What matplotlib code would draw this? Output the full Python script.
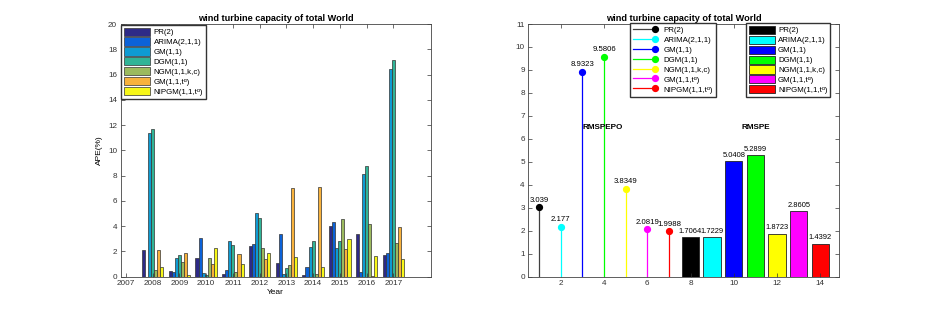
import numpy as np
import matplotlib
matplotlib.use("Agg")
import matplotlib.pyplot as plt
from matplotlib.lines import Line2D
from matplotlib.patches import Patch
from matplotlib.legend_handler import HandlerLine2D

plt.rcParams['font.family'] = ['Liberation Sans', 'DejaVu Sans']
plt.rcParams['font.size'] = 5.6

# 模型名称 (上标 alpha 用 unicode 字符, 避免 mathtext 使行变高)
models = ['PR(2)', 'ARIMA(2,1,1)', 'GM(1,1)', 'DGM(1,1)', 'NGM(1,1,k,c)',
          'GM(1,1,t\u1d45)', 'NIPGM(1,1,t\u1d45)']

# 左图: 每年的 APE(%)
years = [2007, 2008, 2009, 2010, 2011, 2012, 2013, 2014, 2015, 2016, 2017]
ape_pr = [0, 2.15, 0.45, 1.5, 0.2, 2.45, 1.05, 0.1, 4.0, 3.4, 1.75]
ape_arima = [0, 0.0, 0.35, 3.05, 0.5, 2.6, 3.35, 0.8, 4.3, 0.35, 1.85]
ape_gm = [0, 11.4, 1.45, 0.3, 2.85, 5.05, 0.2, 2.35, 2.25, 8.1, 16.4]
ape_dgm = [0, 11.7, 1.75, 0.1, 2.5, 4.65, 0.65, 2.85, 2.8, 8.75, 17.15]
ape_ngm = [0, 0.5, 1.2, 1.45, 0.4, 2.3, 0.9, 0.25, 4.6, 4.2, 2.7]
ape_gmt = [0, 2.1, 1.85, 1.0, 1.8, 1.4, 7.05, 7.1, 2.2, 0.05, 3.95]
ape_nipgm = [0, 0.8, 0.15, 2.25, 1.0, 1.85, 1.55, 0.75, 3.0, 1.6, 1.4]
ape_all = [ape_pr, ape_arima, ape_gm, ape_dgm, ape_ngm, ape_gmt, ape_nipgm]
left_colors = ['#2e2a87', '#0c62d8', '#0e9bd3', '#30b497', '#9cba5e', '#f8b23c', '#f7f718']

# 右图: RMSPEPO 和 RMSPE
rmspepo = [3.039, 2.177, 8.9323, 9.5806, 3.8349, 2.0819, 1.9988]
rmspepo_labels = ['3.039', '2.177', '8.9323', '9.5806', '3.8349', '2.0819', '1.9988']
rmspe = [1.7064, 1.7229, 5.0408, 5.2899, 1.8723, 2.8605, 1.4392]
rmspe_labels = ['1.7064', '1.7229', '5.0408', '5.2899', '1.8723', '2.8605', '1.4392']
right_colors = ['#000000', '#00ffff', '#0000ff', '#00ff00', '#ffff00', '#ff00ff', '#ff0000']
stem_colors = ['#404040', '#00ffff', '#0000ff', '#00ff00', '#ffff00', '#ff00ff', '#ff0000']


# 图例里标记放在线的右端 (类似 MATLAB 的 stem 图例)
class StemHandler(HandlerLine2D):
    def create_artists(self, *args, **kwargs):
        arts = super().create_artists(*args, **kwargs)
        arts[0].set_markevery([2])
        return arts


def style_axes(ax):
    for s in ax.spines.values():
        s.set_color('#444444')
        s.set_linewidth(0.6)
    ax.tick_params(direction='in', top=True, right=True, length=3, width=0.5,
                   colors='#333333', labelsize=5.9, pad=2.5)


leg_kw = dict(fontsize=5.7, labelspacing=0.15, borderpad=0.35, fancybox=False,
              edgecolor='#333333', framealpha=1)

fig = plt.figure(figsize=(9.26, 3.11), dpi=100)
ax1 = fig.add_axes([0.1303, 0.1103, 0.3348, 0.8125])
ax2 = fig.add_axes([0.5705, 0.1103, 0.3352, 0.8125])

# ---- 左图 分组柱状图 ----
x = np.array(years, dtype=float)
n = len(ape_all)
w = 0.8 / n
for i in range(n):
    ax1.bar(x + (i - (n - 1) / 2) * w, ape_all[i], width=w, color=left_colors[i],
            edgecolor='#333333', linewidth=0.5, label=models[i])
ax1.set_xlim(2006.8, 2018.4)
ax1.set_ylim(0, 20)
ax1.set_xticks(years)
ax1.set_yticks(range(0, 21, 2))
ax1.set_xlabel('Year', fontsize=6, labelpad=1)
ax1.set_ylabel('APE(%)', fontsize=6, labelpad=4)
ax1.set_title('wind turbine capacity of total World', fontsize=6.6, fontweight='bold', pad=2)
ax1.legend(loc='upper left', handlelength=3.3, handleheight=1.2, handletextpad=0.4,
           borderaxespad=0.1, **leg_kw)
style_axes(ax1)

# ---- 右图 火柴杆图 + 柱状图 ----
stem_x = np.arange(1, 8)
bar_x = np.arange(8, 15)
stem_handles = []
for i in range(7):
    ax2.plot([stem_x[i], stem_x[i]], [0, rmspepo[i]], color=stem_colors[i], lw=0.9)
    ax2.plot(stem_x[i], rmspepo[i], 'o', color=right_colors[i], ms=4.2)
    ax2.text(stem_x[i], rmspepo[i] + 0.14, rmspepo_labels[i], ha='center', va='bottom',
             fontsize=5.6)
    stem_handles.append(Line2D([], [], color=stem_colors[i], lw=0.9, marker='o',
                               markerfacecolor=right_colors[i],
                               markeredgecolor=right_colors[i], ms=4.2))

ax2.bar(bar_x, rmspe, width=0.8, color=right_colors, edgecolor='#222222', linewidth=0.6)
for i in range(7):
    ax2.text(bar_x[i], rmspe[i] + 0.1, rmspe_labels[i], ha='center', va='bottom',
             fontsize=5.4)

ax2.text(3.92, 6.5, 'RMSPEPO', ha='center', va='center', fontsize=5.9, fontweight='bold')
ax2.text(11.0, 6.5, 'RMSPE', ha='center', va='center', fontsize=5.9, fontweight='bold')

ax2.set_xlim(0.5, 14.85)
ax2.set_ylim(0, 11)
ax2.set_xticks(range(2, 15, 2))
ax2.set_yticks(range(0, 12))
ax2.set_title('wind turbine capacity of total World', fontsize=6.6, fontweight='bold', pad=2)

leg1 = ax2.legend(stem_handles, models, loc='upper left', bbox_to_anchor=(0.328, 1.005),
                  handlelength=2.8, handleheight=1.2, numpoints=1, handletextpad=1.1,
                  borderaxespad=0, handler_map={Line2D: StemHandler()}, **leg_kw)
ax2.add_artist(leg1)
bar_handles = [Patch(facecolor=c, edgecolor='#222222', linewidth=0.6) for c in right_colors]
ax2.legend(bar_handles, models, loc='upper right', bbox_to_anchor=(0.973, 1.004),
           handlelength=3.3, handleheight=1.2, handletextpad=0.4, borderaxespad=0,
           **leg_kw)
style_axes(ax2)

fig.savefig('out.png', dpi=100)
